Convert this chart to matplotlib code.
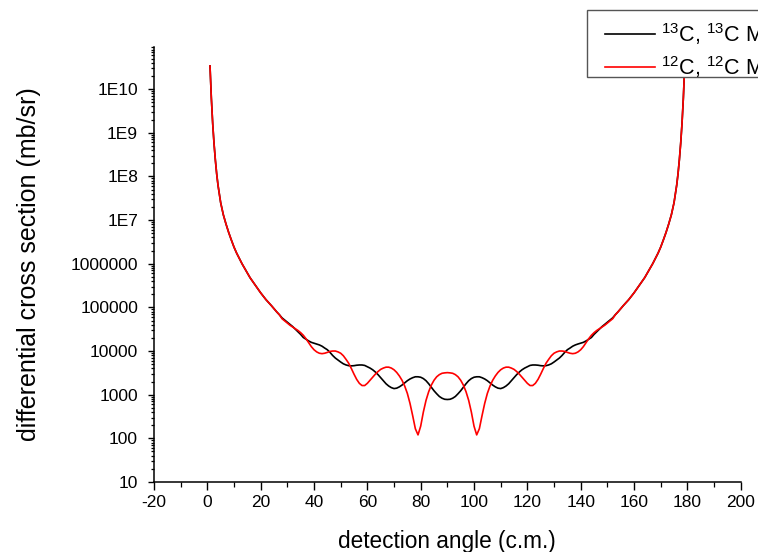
import numpy as np
import matplotlib
matplotlib.use('Agg')
import matplotlib.pyplot as plt
from matplotlib.patches import Rectangle
from matplotlib.ticker import LogLocator, NullFormatter

plt.rcParams['font.family'] = ['Liberation Sans', 'DejaVu Sans']
plt.rcParams['mathtext.fontset'] = 'custom'
plt.rcParams['mathtext.rm'] = 'Liberation Sans'
plt.rcParams['mathtext.it'] = 'Liberation Sans:italic'
plt.rcParams['axes.unicode_minus'] = False

# detection angle (deg, c.m.)
angle = [1, 1.5, 2, 2.5, 3, 3.5, 4, 5, 6, 7, 8, 9, 10, 11, 12, 13, 14, 16, 18, 20, 22, 24, 26, 27,
         28, 29, 30, 31, 32, 33, 34, 35, 36, 37, 38, 39, 40, 41, 42, 43, 44, 45, 46, 47, 48, 49,
         50, 51, 52, 53, 54, 55, 56, 57, 58, 59, 60, 61, 62, 63, 64, 65, 66, 67, 68, 69, 70, 71,
         72, 73, 74, 75, 76, 77, 78, 79, 80, 81, 82, 83, 84, 85, 86, 87, 88, 89, 90,
         91, 92, 93, 94, 95, 96, 97, 98, 99, 100, 101, 102, 103, 104, 105, 106, 107, 108, 109,
         110, 111, 112, 113, 114, 115, 116, 117, 118, 119, 120, 121, 122, 123, 124, 125, 126,
         127, 128, 129, 130, 131, 132, 133, 134, 135, 136, 137, 138, 139, 140, 141, 142, 143,
         144, 145, 146, 147, 148, 149, 150, 151, 152, 153, 154, 156, 158, 160, 162, 164, 166,
         167, 168, 169, 170, 171, 172, 173, 174, 175, 176, 176.5, 177, 177.5, 178, 178.5, 179]

# 13C,13C Mott (mb/sr)
sigma_13c = [3.4e10, 6.3e9, 1.66e9, 5.75e8, 2.4e8, 1.15e8, 6.3e7, 2.5e7, 1.32e7, 8.1e6, 5.2e6,
             3.5e6, 2.4e6, 1.74e6, 1.32e6, 1.0e6, 7.8e5, 4.8e5, 3.2e5, 2.15e5, 1.5e5, 1.1e5,
             7.9e4, 6.8e4,
             57500, 51300, 45700, 40700, 36300, 31600, 27500, 24000, 20400, 18600, 17000, 15800,
             15100, 14500, 13800, 12900, 11700, 10700, 9300, 7900, 6900, 6200, 5600, 5100, 4800,
             4620, 4570, 4620, 4730, 4790, 4790, 4680, 4370, 4070, 3720, 3310, 2880, 2450, 2090,
             1780, 1580, 1450, 1380, 1410, 1510, 1660, 1860, 2090, 2290, 2450, 2570, 2570, 2510,
             2340, 2090, 1780, 1480, 1230, 1050, 910, 830, 785, 776,
             785, 830, 910, 1050, 1230, 1480, 1780, 2090, 2340, 2510, 2570, 2570, 2450, 2290,
             2090, 1860, 1660, 1510, 1410, 1380, 1450, 1580, 1780, 2090, 2450, 2880, 3310, 3720,
             4070, 4370, 4680, 4790, 4790, 4730, 4620, 4570, 4620, 4800, 5100, 5600, 6200, 6900,
             7900, 9300, 10700, 11700, 12900, 13800, 14500, 15100, 15800, 17000, 18600, 20400,
             24000, 27500, 31600, 36300, 40700, 45700, 51300, 57500,
             6.8e4, 7.9e4, 1.1e5, 1.5e5, 2.15e5, 3.2e5, 4.8e5, 7.8e5, 1.0e6, 1.32e6, 1.74e6,
             2.4e6, 3.5e6, 5.2e6, 8.1e6, 1.32e7, 2.5e7, 6.3e7, 1.15e8, 2.4e8, 5.75e8, 1.66e9,
             6.3e9, 3.4e10]

# 12C,12C Mott (mb/sr)
sigma_12c = [3.4e10, 6.3e9, 1.66e9, 5.75e8, 2.4e8, 1.15e8, 6.3e7, 2.5e7, 1.32e7, 8.1e6, 5.2e6,
             3.5e6, 2.4e6, 1.74e6, 1.32e6, 1.0e6, 7.8e5, 4.8e5, 3.2e5, 2.15e5, 1.5e5, 1.1e5,
             7.9e4, 6.8e4,
             55000, 49000, 43600, 38900, 35500, 32400, 29500, 26300, 22900, 19100, 15500, 12600,
             10700, 9550, 8900, 8700, 8900, 9300, 9800, 10000, 10000, 9550, 8900, 7800, 6450,
             5250, 3980, 2950, 2240, 1820, 1620, 1620, 1820, 2140, 2510, 2950, 3390, 3800, 4070,
             4270, 4270, 4070, 3720, 3240, 2690, 2140, 1580, 1070, 630, 330, 166, 120, 190, 400,
             740, 1170, 1660, 2140, 2570, 2880, 3090, 3160, 3200,
             3160, 3090, 2880, 2570, 2140, 1660, 1170, 740, 400, 190, 120, 166, 330, 630, 1070,
             1580, 2140, 2690, 3240, 3720, 4070, 4270, 4270, 4070, 3800, 3390, 2950, 2510, 2140,
             1820, 1620, 1620, 1820, 2240, 2950, 3980, 5250, 6450, 7800, 8900, 9550, 10000,
             10000, 9800, 9300, 8900, 8700, 8900, 9550, 10700, 12600, 15500, 19100, 22900,
             26300, 29500, 32400, 35500, 38900, 43600, 49000, 55000,
             6.8e4, 7.9e4, 1.1e5, 1.5e5, 2.15e5, 3.2e5, 4.8e5, 7.8e5, 1.0e6, 1.32e6, 1.74e6,
             2.4e6, 3.5e6, 5.2e6, 8.1e6, 1.32e7, 2.5e7, 6.3e7, 1.15e8, 2.4e8, 5.75e8, 1.66e9,
             6.3e9, 3.4e10]

series_labels = [r'$^{13}$C, $^{13}$C Mott', r'$^{12}$C, $^{12}$C Mott']

x_ticks = [-20, 0, 20, 40, 60, 80, 100, 120, 140, 160, 180, 200]
y_ticks = [1e1, 1e2, 1e3, 1e4, 1e5, 1e6, 1e7, 1e8, 1e9, 1e10]
y_tick_labels = ['10', '100', '1000', '10000', '100000', '1000000',
                 '1E7', '1E8', '1E9', '1E10']

W, H = 758, 552
fig = plt.figure(figsize=(W / 100, H / 100), dpi=100)
ax = fig.add_axes([154 / W, 1 - 482 / H, (740.7 - 154) / W, (482 - 47) / H])

l1, = ax.plot(angle, sigma_13c, color='black', lw=1.2)
l2, = ax.plot(angle, sigma_12c, color='#ff0000', lw=1.2)

ax.set_yscale('log')
ax.set_xlim(-20, 200)
ax.set_ylim(10, 9.2e10)

for s in ['top', 'right']:
    ax.spines[s].set_visible(False)
for s in ['left', 'bottom']:
    ax.spines[s].set_linewidth(1.1)

ax.set_xticks(x_ticks)
ax.set_xticks(np.arange(-10, 200, 20), minor=True)
ax.set_yticks(y_ticks, y_tick_labels)
ax.yaxis.set_minor_locator(LogLocator(base=10, subs=np.arange(2, 10), numticks=20))
ax.yaxis.set_minor_formatter(NullFormatter())

ax.tick_params(axis='both', which='major', direction='out', length=4, width=1.0,
               labelsize=12.5, pad=7.5)
ax.tick_params(axis='both', which='minor', direction='out', length=2.5, width=0.9)
ax.tick_params(axis='x', which='major', length=5.5, pad=4)
ax.tick_params(axis='x', which='minor', length=3.5)

ax.set_xlabel('detection angle (c.m.)', fontsize=16.3)
ax.xaxis.set_label_coords(0.5, -(530 - 482) / (482 - 47))
ax.set_ylabel('differential cross section (mb/sr)', fontsize=18)
ax.yaxis.set_label_coords(-(154 - 41) / (740.7 - 154), 0.5)

# legend box (runs past the right edge of the figure, as in the original)
fig.patches.append(Rectangle((587 / W, 1 - 77 / H), 200 / W, 67 / H,
                             transform=fig.transFigure, facecolor='white',
                             edgecolor='#555555', linewidth=1.0, zorder=3))
leg = fig.legend([l1, l2], series_labels, loc='upper left',
                 bbox_to_anchor=(605 / W, 1 - 21 / H), borderaxespad=0,
                 borderpad=0, fontsize=15.5, frameon=False,
                 handlelength=2.3, handletextpad=0.3, labelspacing=0.33)
leg.set_zorder(4)

fig.savefig('out.png', dpi=100)
